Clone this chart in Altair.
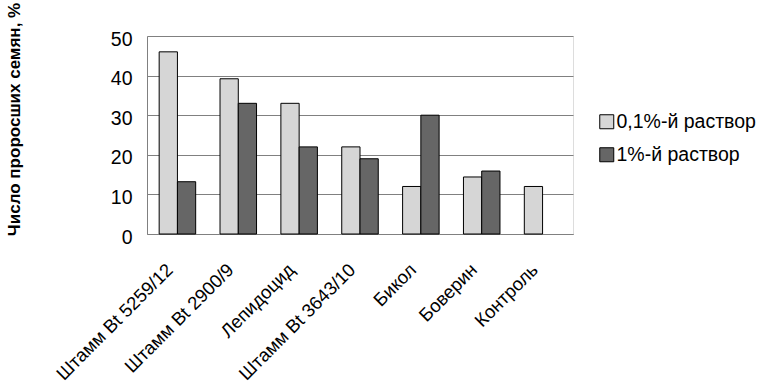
import altair as alt
import pandas as pd

categories = ["Штамм Bt 5259/12", "Штамм Bt 2900/9", "Лепидоцид", "Штамм Bt 3643/10",
              "Бикол", "Боверин", "Контроль"]
series = ["0,1%-й раствор", "1%-й раствор"]
vals_01 = [46, 39.2, 33, 22, 12, 14.4, 12]
vals_1 = [13.2, 33, 22, 19, 30, 15.9, None]

rows = []
for c, a, b in zip(categories, vals_01, vals_1):
    rows.append({"cat": c, "ser": series[0], "v": a})
    if b is not None:
        rows.append({"cat": c, "ser": series[1], "v": b})
df = pd.DataFrame(rows)

FONT = "Liberation Sans"

chart = alt.Chart(df).mark_bar(stroke="black", strokeWidth=1).encode(
    x=alt.X("cat:N", sort=categories,
            scale=alt.Scale(paddingInner=0.4, paddingOuter=0.2),
            axis=alt.Axis(title=None, labelAngle=-45, labelFont=FONT, labelFontSize=18.5,
                          labelColor="black", domainColor="#808080", ticks=False,
                          labelPadding=26, labelOffset=-14,
                          labelAlign="right", labelBaseline="top")),
    xOffset=alt.XOffset("ser:N", sort=series),
    y=alt.Y("v:Q", scale=alt.Scale(domain=[0, 50]),
            axis=alt.Axis(title="Число проросших семян, %", values=[0, 10, 20, 30, 40, 50],
                          titleFont=FONT, titleFontSize=17, titleFontWeight="bold",
                          titleColor="black", titleX=-133, titleY=83, titleAngle=-90,
                          titleAlign="center", titleBaseline="middle",
                          labelFont=FONT, labelFontSize=19.5, labelColor="black",
                          labelPadding=15, labelOffset=3, ticks=False,
                          domainColor="#808080", gridColor="#808080", gridWidth=1)),
    fill=alt.Fill("ser:N", sort=series,
                  scale=alt.Scale(domain=series, range=["#d6d6d6", "#666666"]),
                  legend=alt.Legend(title=None, orient="none", legendX=450, legendY=76,
                                    symbolType="square", symbolSize=196,
                                    symbolStrokeColor="black", symbolStrokeWidth=1,
                                    labelFont=FONT, labelFontSize=19.5, labelColor="black",
                                    rowPadding=12, labelOffset=0)),
).properties(
    width=426, height=198,
    padding={"left": 147, "top": 36, "right": 187, "bottom": 149},
    autosize=alt.AutoSizeParams(type="none"),
).configure_view(stroke=None).configure(background="white")

chart.save("out.html", embed_options={"renderer": "svg", "actions": False})
